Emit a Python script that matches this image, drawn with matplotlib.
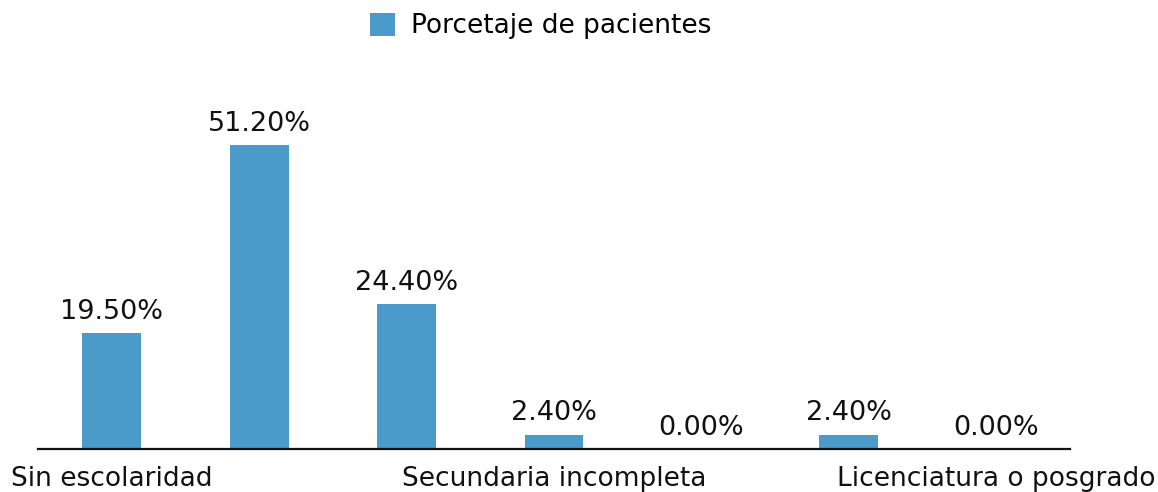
import numpy as np
import matplotlib
matplotlib.use("Agg")
import matplotlib.pyplot as plt

# only every third category name is printed in the original chart
labels = ["Sin escolaridad", "", "", "Secundaria incompleta", "", "", "Licenciatura o posgrado"]
values = [19.5, 51.2, 24.4, 2.4, 0.0, 2.4, 0.0]
series_name = "Porcetaje de pacientes"

bar_color = "#4a9bca"

plt.rcParams['font.family'] = ['DejaVu Sans']

fig = plt.figure(figsize=(11.58, 4.92), dpi=100)
ax = fig.add_axes([38 / 1158, 43 / 492, 1032 / 1158, 389 / 492])

x = np.arange(len(values))
bars = ax.bar(x, values, width=0.4, color=bar_color, label=series_name)

for xi, v in zip(x, values):
    ax.annotate("%.2f%%" % v, (xi, v), xytext=(0, 6), textcoords="offset points",
                ha="center", va="bottom", fontsize=19.5, color="#111111")

ax.set_xlim(-0.5, len(values) - 0.5)
ax.set_ylim(0, 389 / (304 / 51.2))
ax.set_xticks(x)
ax.set_xticklabels(labels, fontsize=19, color="#111111")
ax.tick_params(axis="x", length=0, pad=12)
ax.set_yticks([])
for s in ["top", "left", "right"]:
    ax.spines[s].set_visible(False)
ax.spines["bottom"].set_linewidth(1.6)
ax.spines["bottom"].set_color("#111111")

fig.legend(handles=[bars], labels=[series_name], loc="upper left",
           bbox_to_anchor=(370 / 1158, 1 - 13 / 492), frameon=False,
           fontsize=19, handlelength=0.95, handleheight=0.95,
           handletextpad=0.6, borderpad=0, borderaxespad=0)

fig.savefig("out.png", dpi=100)
